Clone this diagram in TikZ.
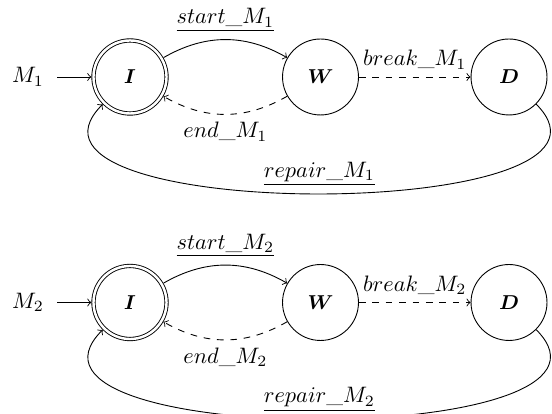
\documentclass[tikz,border=0pt]{standalone}
\usetikzlibrary{arrows}
\begin{document}
\begin{tikzpicture}[x=0.4476pt, y=0.4476pt,
  statebox/.style={circle, draw, inner sep=0pt, minimum size=34pt, font=\small\boldmath},
  initstate/.style={statebox, double, double distance=1.1pt, minimum size=32.7pt, outer sep=0.95pt},
  trans/.style={->},
  uctrans/.style={->, dashed}]
  \useasboundingbox (0,0) rectangle (552,414);

  % machine 1
  \node[initstate] (I1) at (130,337) {$I$};
  \node[statebox] (W1) at (320.5,337) {$W$};
  \node[statebox] (D1) at (509,337) {$D$};
  \node (lab1) at (28,337) {$M_1$};
  \coordinate (s1) at (57,337);
  \draw[trans] (s1) -- (I1);
  \draw[trans] (I1) to[bend left=30] node[above] {$\underline{start\_M_1}$} (W1);
  \draw[uctrans] (W1) to[bend left=30] node[below] {$end\_M_1$} (I1);
  \draw[uctrans] (W1) -- node[above] {$break\_M_1$} (D1);
  \draw[trans] (D1) to[out=-45, in=-135] node[above] {$\underline{repair\_M_1}$} (I1);

  % machine 2
  \node[initstate] (I2) at (130,111.5) {$I$};
  \node[statebox] (W2) at (320.5,111.5) {$W$};
  \node[statebox] (D2) at (509,111.5) {$D$};
  \node (lab2) at (28,111.5) {$M_2$};
  \coordinate (s2) at (57,111.5);
  \draw[trans] (s2) -- (I2);
  \draw[trans] (I2) to[bend left=30] node[above] {$\underline{start\_M_2}$} (W2);
  \draw[uctrans] (W2) to[bend left=30] node[below] {$end\_M_2$} (I2);
  \draw[uctrans] (W2) -- node[above] {$break\_M_2$} (D2);
  \draw[trans] (D2) to[out=-45, in=-135] node[above] {$\underline{repair\_M_2}$} (I2);
\end{tikzpicture}
\end{document}
